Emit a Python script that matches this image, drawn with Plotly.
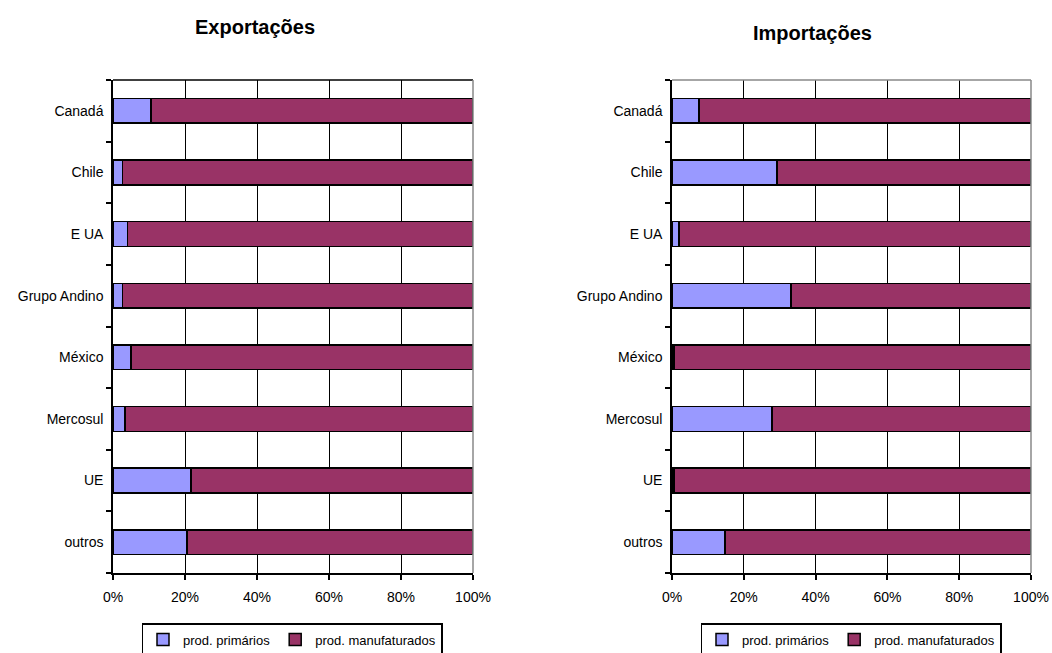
import plotly.graph_objects as go

categories = ["Canadá", "Chile", "EUA", "Grupo Andino", "México", "Mercosul", "UE", "outros"]
cat_labels = ["Canadá", "Chile", "E UA", "Grupo Andino", "México", "Mercosul", "UE", "outros"]

exp_primarios = [10.5, 2.7, 4.0, 2.7, 5.0, 3.4, 21.7, 20.5]
exp_manufaturados = [89.5, 97.3, 96.0, 97.3, 95.0, 96.6, 78.3, 79.5]

imp_primarios = [7.5, 29.3, 2.0, 33.1, 0.5, 27.8, 0.5, 14.8]
imp_manufaturados = [92.5, 70.7, 98.0, 66.9, 99.5, 72.2, 99.5, 85.2]

x_ticks = [0, 20, 40, 60, 80, 100]
x_ticklabels = ["0%", "20%", "40%", "60%", "80%", "100%"]

titles = ["Exportações", "Importações"]
series_names = ["prod. primários", "prod. manufaturados"]
c_prim = "#9999FF"
c_manu = "#993366"

FONT = "Arial, Liberation Sans, sans-serif"
W, H = 1052, 653

fig = go.Figure()

panels = [
    (exp_primarios, exp_manufaturados, "x", "y", "legend"),
    (imp_primarios, imp_manufaturados, "x2", "y2", "legend2"),
]
for prim, manu, xa, ya, lg in panels:
    fig.add_trace(go.Bar(y=categories, x=prim, orientation="h", name=series_names[0],
                         marker=dict(color=c_prim, line=dict(color="black", width=1.5)),
                         xaxis=xa, yaxis=ya, legend=lg))
    fig.add_trace(go.Bar(y=categories, x=manu, orientation="h", name=series_names[1],
                         marker=dict(color=c_manu, line=dict(color="black", width=1.5)),
                         xaxis=xa, yaxis=ya, legend=lg))

ydom = [1 - 573 / H, 1 - 80 / H]
xdom1 = [113 / W, 473 / W]
xdom2 = [672 / W, 1031 / W]

xcommon = dict(range=[0, 100], tickvals=x_ticks, ticktext=x_ticklabels, showgrid=True,
               gridcolor="black", gridwidth=1, showline=True, linecolor="black", linewidth=1.5,
               ticks="outside", ticklen=5, tickcolor="black", tickwidth=1.5,
               tickfont=dict(family=FONT, size=14, color="black"), zeroline=False,
               ticklabelstandoff=5, fixedrange=True, automargin=False)
ycommon = dict(categoryorder="array", categoryarray=categories, autorange="reversed",
               tickvals=categories, ticktext=cat_labels,
               showline=True, linecolor="black", linewidth=1.5, ticks="outside", ticklen=5,
               tickcolor="black", tickwidth=1.5, tickson="boundaries", showgrid=False,
               tickfont=dict(family=FONT, size=14, color="black"), ticklabelstandoff=5,
               fixedrange=True, automargin=False)

legcommon = dict(orientation="h", xanchor="center", y=1 - 656 / H, yanchor="bottom",
                 bordercolor="black", borderwidth=1.5, bgcolor="white",
                 font=dict(family=FONT, size=13, color="black"), traceorder="normal",
                 itemwidth=30, tracegroupgap=0)

fig.update_layout(
    width=W, height=H,
    margin=dict(l=0, r=0, t=0, b=0, autoexpand=False),
    paper_bgcolor="white", plot_bgcolor="white",
    barmode="stack", bargap=0.6,
    xaxis=dict(domain=xdom1, anchor="y", **xcommon),
    yaxis=dict(domain=ydom, anchor="x", **ycommon),
    xaxis2=dict(domain=xdom2, anchor="y2", **xcommon),
    yaxis2=dict(domain=ydom, anchor="x2", **ycommon),
    legend=dict(x=292 / W, **legcommon),
    legend2=dict(x=851 / W, **legcommon),
    showlegend=True,
)

# titles
fig.add_annotation(text="<b>" + titles[0] + "</b>", x=255 / W, y=1 - 27 / H, xref="paper", yref="paper",
                   showarrow=False, font=dict(family=FONT, size=20, color="black"),
                   xanchor="center", yanchor="middle")
fig.add_annotation(text="<b>" + titles[1] + "</b>", x=812 / W, y=1 - 33 / H, xref="paper", yref="paper",
                   showarrow=False, font=dict(family=FONT, size=20, color="black"),
                   xanchor="center", yanchor="middle")

# plot-area frame lines (top and right)
for xr, yr, topc in [("x domain", "y domain", "black"), ("x2 domain", "y2 domain", "#888888")]:
    fig.add_shape(type="line", xref=xr, yref=yr, x0=0, x1=1, y0=1, y1=1,
                  line=dict(color=topc, width=1.5))
    fig.add_shape(type="line", xref=xr, yref=yr, x0=1, x1=1, y0=0, y1=1,
                  line=dict(color="#888888", width=1.5))

fig.write_html("out.html")
